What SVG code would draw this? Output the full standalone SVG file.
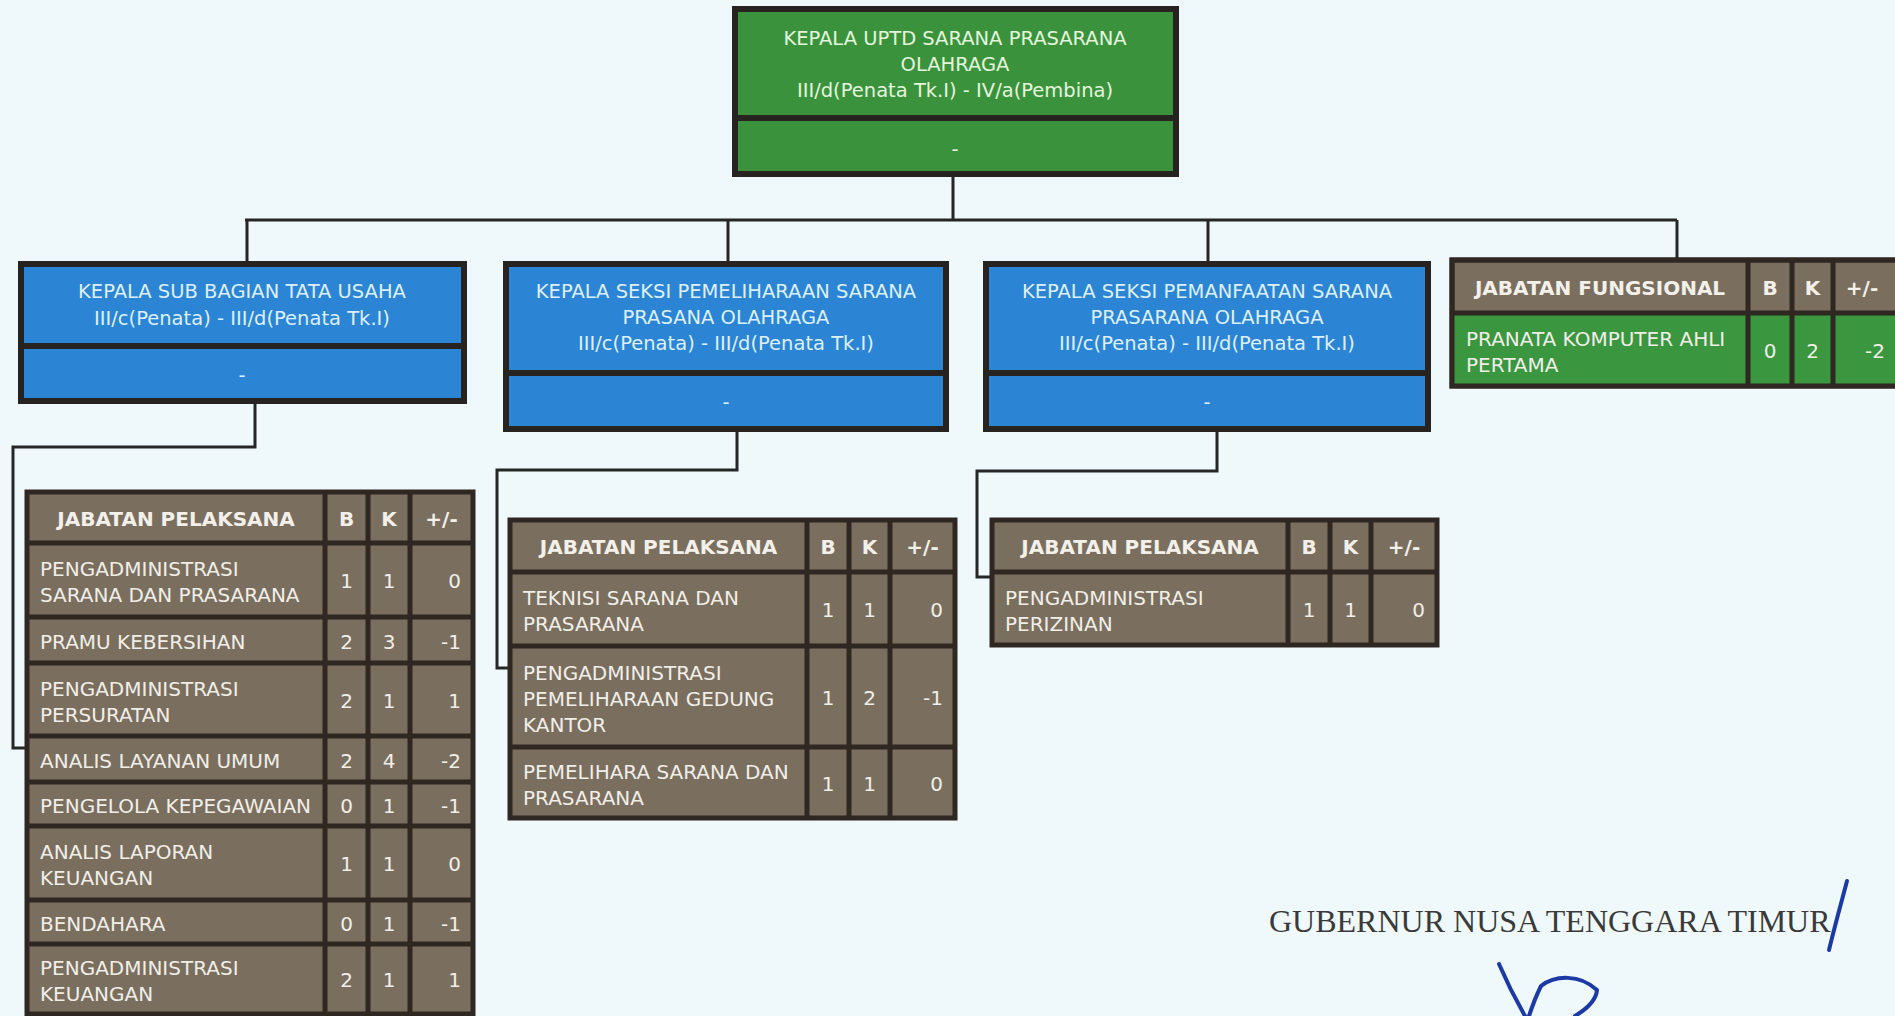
<svg xmlns="http://www.w3.org/2000/svg" width="1895" height="1016" viewBox="0 0 1895 1016">
<style>
.bg{fill:#eff8fb}
.box{stroke:#262320;stroke-width:6}
.green{fill:#3a923d}
.blue{fill:#2c84d4}
.tbl{fill:#7a6e5f;stroke:#2e2722;stroke-width:5}
.tgreen{fill:#3a963f}
.div{stroke:#262320;stroke-width:6}
.grid{stroke:#2e2722;stroke-width:5}
.conn{fill:none;stroke:#262626;stroke-width:3}
.bt{font-family:"DejaVu Sans",Verdana,sans-serif;font-size:19.5px;text-anchor:middle}
.gtx{fill:#e4f5dc}
.btx{fill:#dcefff}
.th{font-family:"DejaVu Sans",Verdana,sans-serif;font-size:20px;font-weight:bold;fill:#f3f0ea;text-anchor:middle}
.td{font-family:"DejaVu Sans",Verdana,sans-serif;font-size:20px;fill:#f1eee8}
.c{text-anchor:middle}
.r{text-anchor:end}
.sig{font-family:"Liberation Serif","Times New Roman",serif;font-size:32px;fill:#3a3a3a}
.ink{fill:none;stroke:#1c3aa6;stroke-width:4;stroke-linecap:round;stroke-linejoin:round}
</style>
<rect class="bg" x="0" y="0" width="1895" height="1016"/>

<g id="connectors">
<path class="conn" d="M953 177 V220 M245 220 H1677 M247 220 V261 M728 220 V261 M1208 220 V261 M1677 220 V260"/>
<path class="conn" d="M255 404 V447 H13 V748 H27"/>
<path class="conn" d="M737 432 V470 H497 V668 H510"/>
<path class="conn" d="M1217 432 V471 H977 V577 H992"/>
</g>

<g id="kepala-uptd">
<rect class="box green" x="735" y="9" width="441" height="165"/>
<line class="div" x1="735" y1="118" x2="1176" y2="118"/>
<text class="bt gtx" x="955" y="45">KEPALA UPTD SARANA PRASARANA</text>
<text class="bt gtx" x="955" y="71">OLAHRAGA</text>
<text class="bt gtx" x="955" y="97">III/d(Penata Tk.I) - IV/a(Pembina)</text>
<text class="bt gtx" x="955" y="156">-</text>
</g>

<g id="kasubag-tu">
<rect class="box blue" x="21" y="264" width="443" height="137"/>
<line class="div" x1="21" y1="346" x2="464" y2="346"/>
<text class="bt btx" x="242" y="298">KEPALA SUB BAGIAN TATA USAHA</text>
<text class="bt btx" x="242" y="325">III/c(Penata) - III/d(Penata Tk.I)</text>
<text class="bt btx" x="242" y="382">-</text>
</g>

<g id="kasi-pemeliharaan">
<rect class="box blue" x="506" y="264" width="440" height="165"/>
<line class="div" x1="506" y1="373" x2="946" y2="373"/>
<text class="bt btx" x="726" y="298">KEPALA SEKSI PEMELIHARAAN SARANA</text>
<text class="bt btx" x="726" y="324">PRASANA OLAHRAGA</text>
<text class="bt btx" x="726" y="350">III/c(Penata) - III/d(Penata Tk.I)</text>
<text class="bt btx" x="726" y="409">-</text>
</g>

<g id="kasi-pemanfaatan">
<rect class="box blue" x="986" y="264" width="442" height="165"/>
<line class="div" x1="986" y1="373" x2="1428" y2="373"/>
<text class="bt btx" x="1207" y="298">KEPALA SEKSI PEMANFAATAN SARANA</text>
<text class="bt btx" x="1207" y="324">PRASARANA OLAHRAGA</text>
<text class="bt btx" x="1207" y="350">III/c(Penata) - III/d(Penata Tk.I)</text>
<text class="bt btx" x="1207" y="409">-</text>
</g>

<g id="jabatan-fungsional">
<rect class="tbl" x="1452" y="260" width="450" height="126"/>
<rect class="tgreen" x="1454" y="313" width="446" height="71"/>
<path class="grid" d="M1452 313 H1902 M1748 260 V386 M1792 260 V386 M1833 260 V386"/>
<rect x="1452" y="260" width="450" height="126" fill="none" stroke="#2e2722" stroke-width="5"/>
<text class="th" x="1600" y="294.5">JABATAN FUNGSIONAL</text>
<text class="th" x="1770" y="294.5">B</text>
<text class="th" x="1812.5" y="294.5">K</text>
<text class="th" x="1862" y="294.5">+/-</text>
<text class="td" x="1466" y="345.5">PRANATA KOMPUTER AHLI</text>
<text class="td" x="1466" y="371.5">PERTAMA</text>
<text class="td c" x="1770" y="357.5">0</text>
<text class="td c" x="1812.5" y="357.5">2</text>
<text class="td r" x="1885" y="357.5">-2</text>
</g>

<g id="pelaksana-tu">
<rect class="tbl" x="27" y="492" width="446" height="522"/>
<path class="grid" d="M27 543 H473 M27 617 H473 M27 663 H473 M27 736 H473 M27 782 H473 M27 826 H473 M27 900 H473 M27 944 H473 M325 492 V1014 M368 492 V1014 M410 492 V1014"/>
<text class="th" x="176" y="525.5">JABATAN PELAKSANA</text>
<text class="th" x="346.5" y="525.5">B</text>
<text class="th" x="389" y="525.5">K</text>
<text class="th" x="441.5" y="525.5">+/-</text>

<text class="td" x="40" y="576">PENGADMINISTRASI</text>
<text class="td" x="40" y="602">SARANA DAN PRASARANA</text>
<text class="td c" x="346.5" y="588">1</text><text class="td c" x="389" y="588">1</text><text class="td r" x="461" y="588">0</text>

<text class="td" x="40" y="649">PRAMU KEBERSIHAN</text>
<text class="td c" x="346.5" y="649">2</text><text class="td c" x="389" y="649">3</text><text class="td r" x="461" y="649">-1</text>

<text class="td" x="40" y="695.5">PENGADMINISTRASI</text>
<text class="td" x="40" y="721.5">PERSURATAN</text>
<text class="td c" x="346.5" y="707.5">2</text><text class="td c" x="389" y="707.5">1</text><text class="td r" x="461" y="707.5">1</text>

<text class="td" x="40" y="768">ANALIS LAYANAN UMUM</text>
<text class="td c" x="346.5" y="768">2</text><text class="td c" x="389" y="768">4</text><text class="td r" x="461" y="768">-2</text>

<text class="td" x="40" y="813">PENGELOLA KEPEGAWAIAN</text>
<text class="td c" x="346.5" y="813">0</text><text class="td c" x="389" y="813">1</text><text class="td r" x="461" y="813">-1</text>

<text class="td" x="40" y="859">ANALIS LAPORAN</text>
<text class="td" x="40" y="885">KEUANGAN</text>
<text class="td c" x="346.5" y="871">1</text><text class="td c" x="389" y="871">1</text><text class="td r" x="461" y="871">0</text>

<text class="td" x="40" y="931">BENDAHARA</text>
<text class="td c" x="346.5" y="931">0</text><text class="td c" x="389" y="931">1</text><text class="td r" x="461" y="931">-1</text>

<text class="td" x="40" y="975">PENGADMINISTRASI</text>
<text class="td" x="40" y="1001">KEUANGAN</text>
<text class="td c" x="346.5" y="987">2</text><text class="td c" x="389" y="987">1</text><text class="td r" x="461" y="987">1</text>
</g>

<g id="pelaksana-pemeliharaan">
<rect class="tbl" x="510" y="520" width="445" height="298"/>
<path class="grid" d="M510 572 H955 M510 646 H955 M510 747 H955 M807 520 V818 M849 520 V818 M890 520 V818"/>
<text class="th" x="658.5" y="554">JABATAN PELAKSANA</text>
<text class="th" x="828" y="554">B</text>
<text class="th" x="869.5" y="554">K</text>
<text class="th" x="922.5" y="554">+/-</text>

<text class="td" x="523" y="605">TEKNISI SARANA DAN</text>
<text class="td" x="523" y="631">PRASARANA</text>
<text class="td c" x="828" y="617">1</text><text class="td c" x="869.5" y="617">1</text><text class="td r" x="943" y="617">0</text>

<text class="td" x="523" y="679.5">PENGADMINISTRASI</text>
<text class="td" x="523" y="705.5">PEMELIHARAAN GEDUNG</text>
<text class="td" x="523" y="731.5">KANTOR</text>
<text class="td c" x="828" y="704.5">1</text><text class="td c" x="869.5" y="704.5">2</text><text class="td r" x="943" y="704.5">-1</text>

<text class="td" x="523" y="778.5">PEMELIHARA SARANA DAN</text>
<text class="td" x="523" y="804.5">PRASARANA</text>
<text class="td c" x="828" y="790.5">1</text><text class="td c" x="869.5" y="790.5">1</text><text class="td r" x="943" y="790.5">0</text>
</g>

<g id="pelaksana-pemanfaatan">
<rect class="tbl" x="992" y="520" width="445" height="125"/>
<path class="grid" d="M992 572 H1437 M1288 520 V645 M1330 520 V645 M1371 520 V645"/>
<text class="th" x="1140" y="554">JABATAN PELAKSANA</text>
<text class="th" x="1309" y="554">B</text>
<text class="th" x="1350.5" y="554">K</text>
<text class="th" x="1404" y="554">+/-</text>
<text class="td" x="1005" y="604.5">PENGADMINISTRASI</text>
<text class="td" x="1005" y="630.5">PERIZINAN</text>
<text class="td c" x="1309" y="616.5">1</text><text class="td c" x="1350.5" y="616.5">1</text><text class="td r" x="1425" y="616.5">0</text>
</g>

<g id="signature">
<text class="sig" x="1269" y="932">GUBERNUR NUSA TENGGARA TIMUR</text>
<path class="ink" d="M1847 881 C1842 900 1835 925 1829 950"/>
<path class="ink" d="M1499 964 C1508 985 1517 1002 1525 1016"/>
<path class="ink" d="M1529 1016 C1533 1004 1537 994 1541 986 C1555 975 1580 974 1597 990 C1596 1002 1585 1010 1575 1016"/>
</g>
</svg>
